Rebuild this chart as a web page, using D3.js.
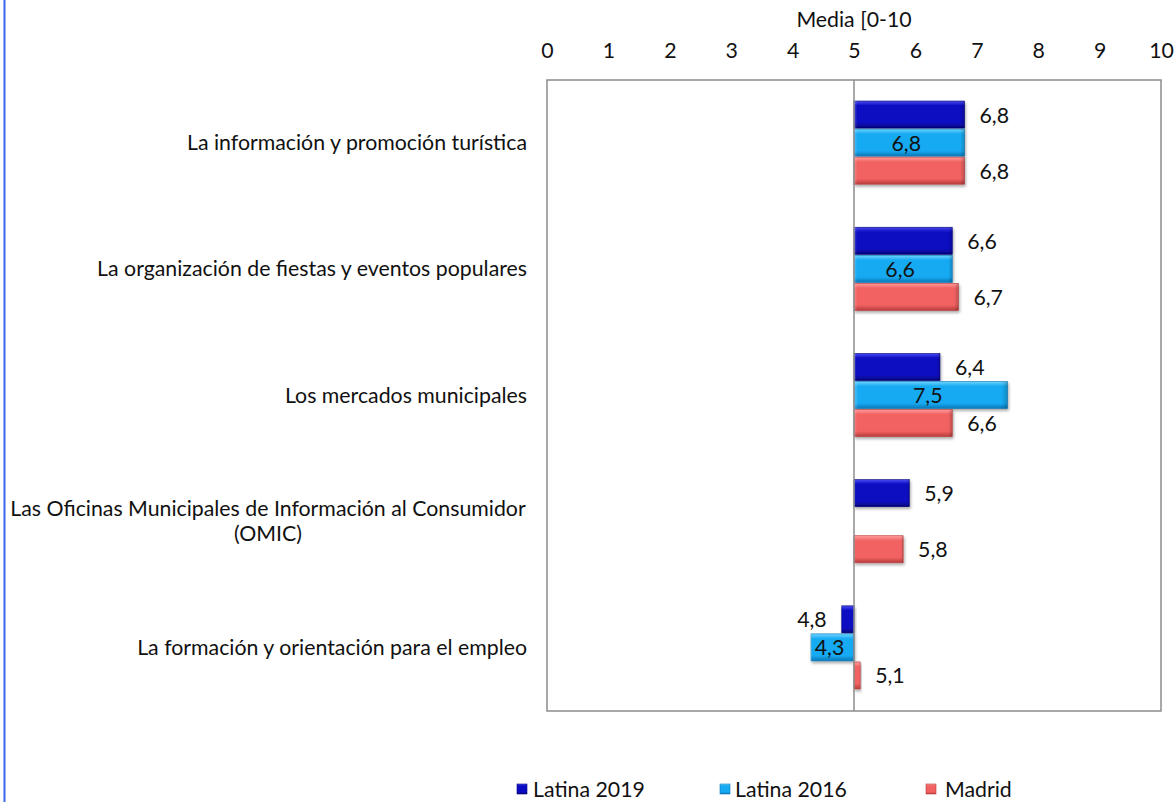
<!DOCTYPE html>
<html>
<head>
<meta charset="utf-8">
<script src="https://cdn.jsdelivr.net/npm/d3@7"></script>
<style>
  body { margin: 0; background: #fff; }
  text { font-family: Lato, "Open Sans", sans-serif; fill: #111; }
</style>
</head>
<body>
<div id="chart"></div>
<script>
// Data
const categories = [
    ["La información y promoción turística"],
    ["La organización de fiestas y eventos populares"],
    ["Los mercados municipales"],
    ["Las Oficinas Municipales de Información al Consumidor", "(OMIC)"],
    ["La formación y orientación para el empleo"]
];
const seriesNames = ["Latina 2019", "Latina 2016", "Madrid"];
const latina2019 = [6.8, 6.6, 6.4, 5.9, 4.8];
const latina2016 = [6.8, 6.6, 7.5, null, 4.3];
const madrid = [6.8, 6.7, 6.6, 5.8, 5.1];
const ticks = [0, 1, 2, 3, 4, 5, 6, 7, 8, 9, 10];
const baseValue = 5;

const width = 1176, height = 802;
const plot = { left: 547, right: 1161, top: 80, bottom: 711 };
const fs = 21.3;

const svg = d3.select("#chart").append("svg")
    .attr("width", width)
    .attr("height", height);

// colors: base, light, dark
const colors = {
    "Latina 2019": ["#0a0ac2", "#4a4af0", "#05057a"],
    "Latina 2016": ["#16aaf2", "#6fd4ff", "#0a78b8"],
    "Madrid": ["#f26262", "#ff9c9c", "#b83c3c"]
};

const defs = svg.append("defs");
seriesNames.forEach((s, i) => {
    const g = defs.append("linearGradient")
        .attr("id", "grad" + i)
        .attr("x1", 0).attr("y1", 0).attr("x2", 0).attr("y2", 1);
    g.append("stop").attr("offset", "0%").attr("stop-color", colors[s][1]);
    g.append("stop").attr("offset", "18%").attr("stop-color", colors[s][0]);
    g.append("stop").attr("offset", "80%").attr("stop-color", colors[s][0]);
    g.append("stop").attr("offset", "100%").attr("stop-color", colors[s][2]);
});
// horizontal bevel overlay (light left edge, dark right edge)
const hb = defs.append("linearGradient").attr("id", "bevelH")
    .attr("x1", 0).attr("y1", 0).attr("x2", 1).attr("y2", 0);
hb.append("stop").attr("offset", "0%").attr("stop-color", "#fff").attr("stop-opacity", 0.25);
hb.append("stop").attr("offset", "3%").attr("stop-color", "#fff").attr("stop-opacity", 0);
hb.append("stop").attr("offset", "96%").attr("stop-color", "#000").attr("stop-opacity", 0);
hb.append("stop").attr("offset", "100%").attr("stop-color", "#000").attr("stop-opacity", 0.2);

const shadow = defs.append("filter").attr("id", "shadow")
    .attr("x", "-20%").attr("y", "-20%").attr("width", "140%").attr("height", "160%");
shadow.append("feDropShadow")
    .attr("dx", 1).attr("dy", 2).attr("stdDeviation", 1.5)
    .attr("flood-color", "#000").attr("flood-opacity", 0.35);

// left blue border
svg.append("line")
    .attr("x1", 4.5).attr("x2", 4.5).attr("y1", 0).attr("y2", height)
    .attr("stroke", "#3a66ee").attr("stroke-width", 2);

// Scales
const x = d3.scaleLinear().domain([0, 10]).range([plot.left, plot.right]);
const y0 = d3.scaleBand().domain(d3.range(categories.length)).range([plot.top, plot.bottom]);
const y1 = d3.scaleBand().domain(seriesNames).range([0, y0.bandwidth()]).paddingOuter(0.75);

// plot box
svg.append("rect")
    .attr("x", plot.left).attr("y", plot.top)
    .attr("width", plot.right - plot.left).attr("height", plot.bottom - plot.top)
    .attr("fill", "none").attr("stroke", "#8c8c8c").attr("stroke-width", 1.5);

// top axis
const axis = svg.append("g")
    .attr("transform", `translate(0,${plot.top})`)
    .call(d3.axisTop(x).tickValues(ticks).tickSize(0).tickPadding(22).tickFormat(d3.format("d")));
axis.select(".domain").remove();
axis.selectAll("text").attr("font-size", fs).attr("font-family", "Lato, sans-serif").attr("fill", "#111");

svg.append("text")
    .attr("x", x(5)).attr("y", 27)
    .attr("text-anchor", "middle")
    .attr("font-size", fs)
    .text("Media [0-10");

// category labels
categories.forEach((lines, i) => {
    const cy = y0(i) + y0.bandwidth() / 2;
    const t = svg.append("text")
        .attr("font-size", fs)
        .attr("text-anchor", lines.length > 1 ? "middle" : "end");
    const lx = lines.length > 1 ? 268 : 527;
    lines.forEach((ln, j) => {
        t.append("tspan")
            .attr("x", lx)
            .attr("y", cy + 7 + (j - (lines.length - 1) / 2) * 25)
            .text(ln);
    });
});

// bars
const rows = [];
categories.forEach((c, i) => {
    [latina2019, latina2016, madrid].forEach((arr, k) => {
        if (arr[i] != null) rows.push({ cat: i, series: seriesNames[k], k: k, value: arr[i] });
    });
});

const barH = y1.bandwidth() - 1;
const barX = d => Math.min(x(d.value), x(baseValue));
const barY = d => y0(d.cat) + y1(d.series);
const barW = d => Math.abs(x(d.value) - x(baseValue));

svg.selectAll(".bar")
    .data(rows)
    .enter().append("rect")
    .attr("class", "bar")
    .attr("x", barX)
    .attr("y", barY)
    .attr("width", barW)
    .attr("height", barH)
    .attr("fill", d => `url(#grad${d.k})`)
    .attr("stroke", d => colors[d.series][2])
    .attr("stroke-width", 0.6)
    .attr("filter", "url(#shadow)");

svg.selectAll(".bevel")
    .data(rows)
    .enter().append("rect")
    .attr("class", "bevel")
    .attr("x", barX)
    .attr("y", barY)
    .attr("width", barW)
    .attr("height", barH)
    .attr("fill", "url(#bevelH)");

// baseline at 5
svg.append("line")
    .attr("x1", x(baseValue)).attr("x2", x(baseValue))
    .attr("y1", plot.top).attr("y2", plot.bottom)
    .attr("stroke", "#8c8c8c").attr("stroke-width", 1.5);

// value labels
const fmt = v => d3.format(".1f")(v).replace(".", ",");
svg.selectAll(".val")
    .data(rows)
    .enter().append("text")
    .attr("class", "val")
    .attr("font-size", fs)
    .attr("y", d => barY(d) + barH / 2 + 8)
    .attr("x", d => {
        if (d.k === 1) return (x(d.value) + x(baseValue)) / 2 - 3;
        return d.value >= baseValue ? x(d.value) + 15 : x(d.value) - 15;
    })
    .attr("text-anchor", d => d.k === 1 ? "middle" : (d.value >= baseValue ? "start" : "end"))
    .text(d => fmt(d.value));

// legend
const legend = [
    { name: "Latina 2019", mx: 517, tx: 533 },
    { name: "Latina 2016", mx: 720, tx: 735 },
    { name: "Madrid", mx: 926, tx: 945 }
];
legend.forEach((l, i) => {
    svg.append("rect")
        .attr("x", l.mx).attr("y", 784)
        .attr("width", 10).attr("height", 10)
        .attr("fill", `url(#grad${i})`)
        .attr("stroke", colors[l.name][2]).attr("stroke-width", 0.6);
    svg.append("text")
        .attr("x", l.tx).attr("y", 797)
        .attr("font-size", fs)
        .text(l.name);
});
</script>
</body>
</html>
